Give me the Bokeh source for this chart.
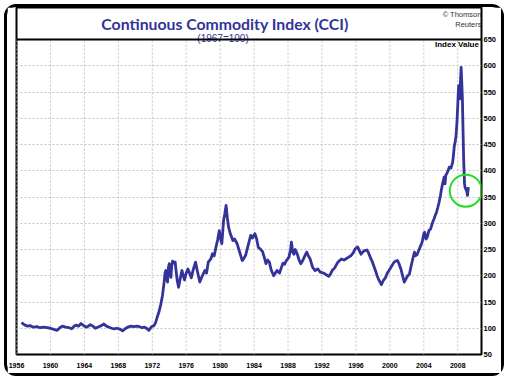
from bokeh.plotting import figure
from bokeh.models import Range1d, FixedTicker, Label, ColumnDataSource, Span
from bokeh.embed import file_html
from bokeh.resources import INLINE

# ---- data ----
years = [
    1956.6, 1956.8, 1957.0, 1957.3, 1957.6, 1958.0, 1958.4, 1958.8, 1959.2, 1959.6,
    1960.0, 1960.4, 1960.8, 1961.1, 1961.4, 1961.8, 1962.2, 1962.5, 1962.8, 1963.0,
    1963.3, 1963.6, 1964.0, 1964.3, 1964.7, 1965.0, 1965.3, 1965.7, 1966.0, 1966.3,
    1966.6, 1966.9, 1967.2, 1967.5, 1967.8, 1968.1, 1968.5, 1968.8, 1969.1, 1969.5,
    1969.8, 1970.2, 1970.5, 1970.8, 1971.1, 1971.4, 1971.6, 1971.9, 1972.2, 1972.4,
    1972.6, 1972.8, 1973.0, 1973.2, 1973.4, 1973.5, 1973.6, 1973.7, 1973.8, 1973.9,
    1974.0, 1974.1, 1974.2, 1974.3, 1974.4, 1974.6, 1974.7, 1974.8, 1974.95, 1975.1,
    1975.3, 1975.5, 1975.65, 1975.8, 1976.0, 1976.2, 1976.4, 1976.6, 1976.8, 1977.1,
    1977.3, 1977.6, 1977.9, 1978.2, 1978.4, 1978.6, 1978.9, 1979.1, 1979.3, 1979.5,
    1979.7, 1979.9, 1980.05, 1980.2, 1980.4, 1980.55, 1980.7, 1980.85, 1981.0, 1981.2,
    1981.5, 1981.7, 1982.0, 1982.3, 1982.6, 1982.8, 1983.0, 1983.3, 1983.6, 1983.8,
    1984.1, 1984.3, 1984.5, 1984.8, 1985.0, 1985.2, 1985.4, 1985.6, 1985.8, 1986.0,
    1986.3, 1986.5, 1986.7, 1987.0, 1987.2, 1987.4, 1987.6, 1987.8, 1988.1, 1988.3,
    1988.4, 1988.55, 1988.7, 1988.85, 1989.1, 1989.3, 1989.5, 1989.7, 1989.9, 1990.2,
    1990.4, 1990.6, 1990.9, 1991.2, 1991.5, 1991.8, 1992.2, 1992.5, 1992.8, 1993.0,
    1993.2, 1993.5, 1993.8, 1994.0, 1994.3, 1994.6, 1994.8, 1995.1, 1995.4, 1995.7,
    1995.9, 1996.2, 1996.4, 1996.6, 1996.8, 1997.0, 1997.3, 1997.5, 1997.7, 1997.9,
    1998.1, 1998.3, 1998.5, 1998.7, 1999.0, 1999.2, 1999.5, 1999.7, 1999.9, 2000.2,
    2000.5, 2000.7, 2000.9, 2001.1, 2001.3, 2001.5, 2001.7, 2001.9, 2002.1, 2002.3,
    2002.5, 2002.7, 2002.9, 2003.0, 2003.2, 2003.4, 2003.6, 2003.8, 2004.0, 2004.1,
    2004.25, 2004.4, 2004.6, 2004.8, 2005.0, 2005.2, 2005.35, 2005.5, 2005.65, 2005.8,
    2005.95, 2006.1, 2006.25, 2006.4, 2006.5, 2006.6, 2006.7, 2006.85, 2007.0, 2007.2,
    2007.4, 2007.5, 2007.6, 2007.7, 2007.8, 2007.9, 2008.0, 2008.1, 2008.18, 2008.25,
    2008.32, 2008.4, 2008.47, 2008.55, 2008.62, 2008.7, 2008.75, 2008.8, 2008.85, 2008.95,
    2009.05, 2009.15, 2009.25,
]
cci = [
    111, 108, 106, 104, 105, 102, 103, 101, 102, 101,
    100, 98, 96, 101, 104, 102, 101, 99, 104, 106,
    104, 109, 104, 102, 107, 104, 100, 103, 105, 108,
    104, 102, 100, 99, 100, 99, 95, 99, 102, 104,
    103, 104, 103, 101, 102, 99, 96, 103, 105, 111,
    122, 132, 145, 162, 188, 205, 210, 195, 188, 215,
    223, 210, 197, 220, 228, 224, 226, 210, 190, 178,
    195, 210, 200, 192, 205, 213, 205, 196, 210, 226,
    210, 188, 200, 210, 205, 226, 232, 242, 238, 254,
    268, 286, 270, 261, 305, 318, 334, 310, 292, 280,
    267, 270, 261, 245, 229, 233, 239, 258, 277, 272,
    280, 270, 254, 250, 246, 235, 223, 230, 226, 212,
    200, 205, 210, 205, 215, 224, 222, 229, 235, 250,
    264, 245, 241, 250, 241, 230, 223, 228, 235, 245,
    238, 232, 216, 210, 213, 207, 205, 202, 199, 203,
    210, 215, 224, 228, 232, 230, 232, 235, 238, 244,
    251, 255, 248, 241, 245, 248, 249, 243, 235, 228,
    219, 210, 200, 192, 183, 190, 197, 205, 210, 218,
    226, 228, 229, 222, 213, 200, 188, 194, 200, 203,
    218, 232, 245, 238, 240, 248, 256, 264, 280, 283,
    270, 273, 286, 289, 300, 308, 315, 321, 330, 340,
    352, 366, 378, 388, 375, 392, 394, 400, 407, 405,
    416, 430, 448, 455, 467, 490, 524, 562, 545, 537,
    570, 597, 570, 537, 480, 420, 397, 375, 369, 365,
    362, 353, 369,
]
x_ticks = [1956, 1960, 1964, 1968, 1972, 1976, 1980, 1984, 1988, 1992, 1996, 2000, 2004, 2008]
y_ticks = [50, 100, 150, 200, 250, 300, 350, 400, 450, 500, 550, 600, 650]
highlight_x = [2008.95]
highlight_y = [362]

title_text = "Continuous Commodity Index (CCI)"
subtitle_text = "(1967=100)"
axis_title = "Index Value"
credit_lines = ["\u00a9 Thomson", "Reuters"]

BLUE = "#333399"
X_MIN, X_MAX = 1956, 2010.8
Y_MIN, Y_MAX = y_ticks[0], y_ticks[-1]
Y_HEADROOM = 711   # area above the plot box that holds the titles

p = figure(width=500, height=372,
           x_range=Range1d(X_MIN, X_MAX), y_range=Range1d(Y_MIN, Y_HEADROOM),
           y_axis_location="right",
           output_backend="svg", toolbar_location=None,
           min_border_left=9, min_border_right=26,
           min_border_top=0, min_border_bottom=25)
p.styles = {"border": "3px solid black", "border-radius": "12px",
            "margin-left": "4px", "margin-top": "4px"}
p.background_fill_color = "white"
p.border_fill_color = "white"
p.outline_line_color = "black"
p.outline_line_width = 2

# axes
for ax in (p.xaxis[0], p.yaxis[0]):
    ax.axis_line_color = None
    ax.major_tick_line_color = None
    ax.minor_tick_line_color = None
    ax.major_tick_out = 0
    ax.major_tick_in = 0
    ax.minor_tick_out = 0
    ax.minor_tick_in = 0
    ax.major_label_text_font = "Liberation Sans"
    ax.major_label_text_font_style = "bold"
    ax.major_label_text_color = "black"
p.xaxis.ticker = FixedTicker(ticks=x_ticks)
p.yaxis.ticker = FixedTicker(ticks=y_ticks)
p.xaxis.major_label_text_font_size = "7px"
p.yaxis.major_label_text_font_size = "7.5px"
p.xaxis.major_label_standoff = 8
p.yaxis.major_label_standoff = 2

# grid: horizontal lines from the grid, vertical lines only inside the plot box
p.xgrid.visible = False
p.ygrid.ticker = FixedTicker(ticks=y_ticks)
p.ygrid.grid_line_color = "#c4c4c4"
p.ygrid.grid_line_dash = "2 2"
p.ygrid.grid_line_width = 1
p.segment(x0=x_ticks, y0=[Y_MIN] * len(x_ticks), x1=x_ticks, y1=[Y_MAX] * len(x_ticks),
          line_color="#c4c4c4", line_dash="2 2", line_width=1)

src = ColumnDataSource(dict(year=years, cci=cci))
p.line("year", "cci", source=src, line_color=BLUE, line_width=2.8, line_join="round")

p.scatter(highlight_x, highlight_y, size=32, fill_color=None,
          line_color="#22dd22", line_width=2)

# texts
p.add_layout(Label(x=1980.57, y=681, text=title_text, text_align="center",
                   text_baseline="alphabetic", text_font="Lato",
                   text_font_style="bold", text_font_size="15.8px", text_color=BLUE))
p.add_layout(Label(x=1980.34, y=652.9, text=subtitle_text, text_align="center",
                   text_baseline="alphabetic", text_font="Liberation Sans",
                   text_font_size="10px", text_color=BLUE))
p.add_layout(Label(x=2010.5, y=650, text=axis_title, text_align="right",
                   text_baseline="top", text_font="Liberation Sans",
                   text_font_style="bold", text_font_size="8px", text_color="black"))
p.add_layout(Label(x=X_MAX, y=698.6, text=credit_lines[0], text_align="right",
                   text_baseline="alphabetic", text_font="Liberation Sans",
                   text_font_size="7.5px", text_color="#333333"))
p.add_layout(Label(x=X_MAX, y=678.6, text=credit_lines[1], text_align="right",
                   text_baseline="alphabetic", text_font="Liberation Sans",
                   text_font_size="7.5px", text_color="#333333"))

# top edge of the plot box
p.add_layout(Span(location=Y_MAX, dimension="width", line_color="black", line_width=2))

open("out.html", "w").write(file_html(p, INLINE))
